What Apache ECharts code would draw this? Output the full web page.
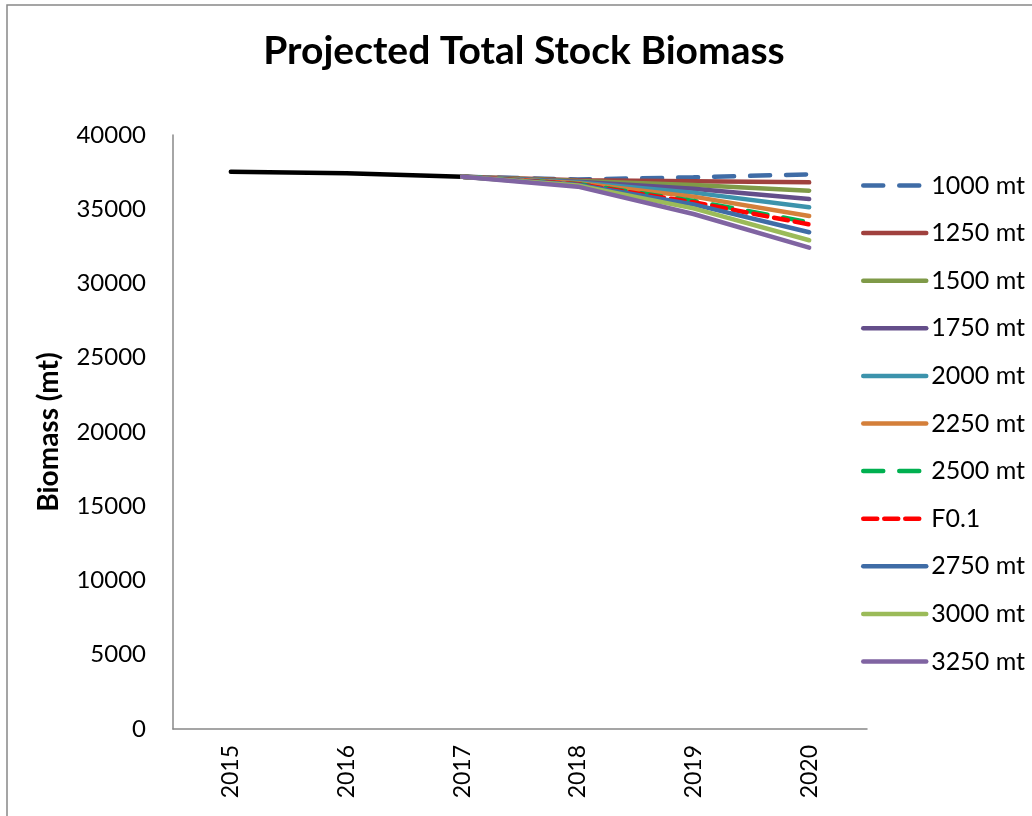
<!DOCTYPE html>
<html>
<head>
<meta charset="utf-8">
<script src="https://cdn.jsdelivr.net/npm/echarts@6/dist/echarts.min.js"></script>
<style>
html,body{margin:0;padding:0;background:#fff;}
#c{width:1032px;height:816px;}
</style>
</head>
<body>
<div id="c"></div>
<script>
const years = ['2015','2016','2017','2018','2019','2020'];
const historic = [37530, 37420, 37190, null, null, null];
const seriesNames = ['1000 mt','1250 mt','1500 mt','1750 mt','2000 mt','2250 mt','2500 mt','F0.1','2750 mt','3000 mt','3250 mt'];
const s1000 = [null, null, 37190, 37000, 37150, 37350];
const s1250 = [null, null, 37190, 36950, 36880, 36810];
const s1500 = [null, null, 37190, 36900, 36640, 36250];
const s1750 = [null, null, 37190, 36850, 36380, 35690];
const s2000 = [null, null, 37190, 36800, 36120, 35130];
const s2250 = [null, null, 37190, 36750, 35850, 34550];
const s2500 = [null, null, 37190, 36700, 35560, 34120];
const sF01  = [null, null, 37190, 36690, 35470, 33980];
const s2750 = [null, null, 37190, 36650, 35330, 33450];
const s3000 = [null, null, 37190, 36600, 35060, 32910];
const s3250 = [null, null, 37190, 36520, 34680, 32410];
const yTicks = [0, 5000, 10000, 15000, 20000, 25000, 30000, 35000, 40000];

const values = [s1000,s1250,s1500,s1750,s2000,s2250,s2500,sF01,s2750,s3000,s3250];
const colors = ['#3F6CA6','#A0413E','#7F9A48','#644E8A','#3C93AC','#D47F3A','#00B050','#FF0000','#3F6CA6','#9BBB59','#8064A2'];
const dashes = [[20,16],null,null,null,null,null,[20,16],[14,7],null,null,null];

const font = 'Lato, "Open Sans", sans-serif';
const series = [{
  name: 'hist', type: 'line', data: historic, symbol: 'none',
  lineStyle: {color: '#000', width: 4.5, cap: 'round'}, z: 1
}];
seriesNames.forEach((n, i) => {
  series.push({
    name: n, type: 'line', data: values[i], symbol: 'none',
    itemStyle: {color: colors[i]},
    lineStyle: {color: colors[i], width: 4.5, type: dashes[i] || 'solid', cap: 'round'},
    z: 2 + i
  });
});

const chart = echarts.init(document.getElementById('c'));
chart.setOption({
  animation: false,
  backgroundColor: '#fff',
  title: {
    text: 'Projected Total Stock Biomass', left: 519, top: 27, textAlign: 'center',
    textStyle: {fontFamily: font, fontWeight: 'bold', fontSize: 39, color: '#000'}
  },
  graphic: [{
    type: 'rect', shape: {x: 7, y: 5, width: 1100, height: 900},
    style: {fill: 'none', stroke: '#888', lineWidth: 1.5}, silent: true
  }],
  legend: {
    data: seriesNames, orient: 'vertical', left: 856, top: 168,
    itemWidth: 63, itemHeight: 24, itemGap: 22.6,
    itemStyle: {opacity: 0},
    lineStyle: {width: 4.5, cap: 'round'},
    textStyle: {fontFamily: font, fontSize: 25, color: '#000'}
  },
  grid: {left: 173, right: 165, top: 135, bottom: 87, containLabel: false},
  xAxis: {
    type: 'category', data: years, boundaryGap: true,
    axisLine: {lineStyle: {color: '#888', width: 1.5}},
    axisTick: {show: false},
    axisLabel: {rotate: 90, margin: 16, fontFamily: font, fontSize: 23, color: '#000'}
  },
  yAxis: {
    type: 'value', min: yTicks[0], max: yTicks[yTicks.length-1], interval: 5000,
    name: 'Biomass (mt)', nameLocation: 'middle', nameGap: 110, nameRotate: 90,
    nameTextStyle: {fontFamily: font, fontWeight: 'bold', fontSize: 28, color: '#000'},
    axisLine: {show: true, lineStyle: {color: '#888', width: 1.5}},
    axisTick: {show: false},
    splitLine: {show: false},
    axisLabel: {margin: 27, fontFamily: font, fontSize: 24, color: '#000', formatter: v => String(v)}
  },
  series: series
});
</script>
</body>
</html>
